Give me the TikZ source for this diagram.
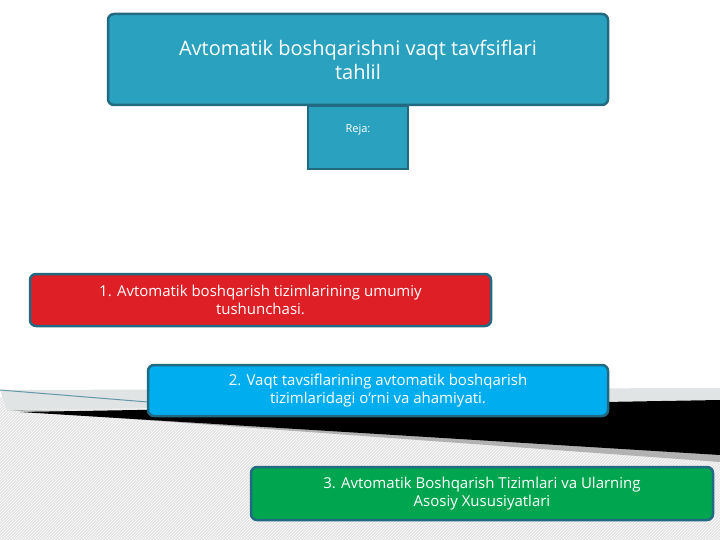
\documentclass[tikz,border=0pt]{standalone}
\usepackage{fontspec}
\setmainfont{Open Sans}
\usetikzlibrary{patterns}
\definecolor{teal1}{HTML}{2AA2BF}
\definecolor{edge}{HTML}{216A82}
\definecolor{redf}{HTML}{DF1F26}
\definecolor{bluef}{HTML}{00AEEF}
\definecolor{greenf}{HTML}{00A550}
\tikzset{box/.style={draw=edge,line width=2.5pt,rounded corners=6pt,text=white,align=center,inner sep=0pt},
 x=1pt,y=-1pt}
\begin{document}
\begin{tikzpicture}
\useasboundingbox (0,0) rectangle (720,540);
% background
\fill[gray!22] (0,397) -- (720,455) -- (720,540) -- (0,540) -- cycle;
\fill[pattern=north east lines,pattern color=white] (0,397) -- (720,455) -- (720,540) -- (0,540) -- cycle;
\fill[gray!60] (7,410) -- (720,420) -- (720,462) -- cycle;
\fill[cyan!10!gray!25] (0,390) -- (720,388) -- (720,400) -- (7,410) -- cycle;
\fill[black] (20,412) -- (720,400) -- (720,455) -- cycle;
\draw[edge!70,line width=1pt] (0,390) -- (160,403);
% nodes
\node[box,fill=teal1,minimum width=500,minimum height=91,font=\fontsize{20}{24}\selectfont] (top) at (358,59.5) {Avtomatik boshqarishni vaqt tavfsiflari\\tahlil};
\node[draw=edge,line width=2pt,fill=teal1,inner sep=0pt] (arr) at (358,138)
 {\tikz[x=1pt,y=-1pt]\path (333,107)--(333,138)--(308,138)--(358,170)--(408,138)--(383,138)--(383,107)--cycle;};
\path (arr.center) ++(0,-8) node[text=white,font=\fontsize{11}{13}\selectfont] (reja) {Reja:};
\node[box,fill=redf,minimum width=461,minimum height=52,font=\fontsize{15}{18}\selectfont] (r) at (260.5,300) {1. Avtomatik boshqarish tizimlarining umumiy\\tushunchasi.};
\node[box,fill=bluef,minimum width=460,minimum height=51,font=\fontsize{15}{18}\selectfont] (b) at (378,390.5) {2. Vaqt tavsiflarining avtomatik boshqarish\\tizimlaridagi o‘rni va ahamiyati.};
\node[box,fill=greenf,minimum width=462,minimum height=53,font=\fontsize{15}{18}\selectfont] (g) at (482,493.5) {3. Avtomatik Boshqarish Tizimlari va Ularning\\Asosiy Xususiyatlari};
\end{tikzpicture}
\end{document}
